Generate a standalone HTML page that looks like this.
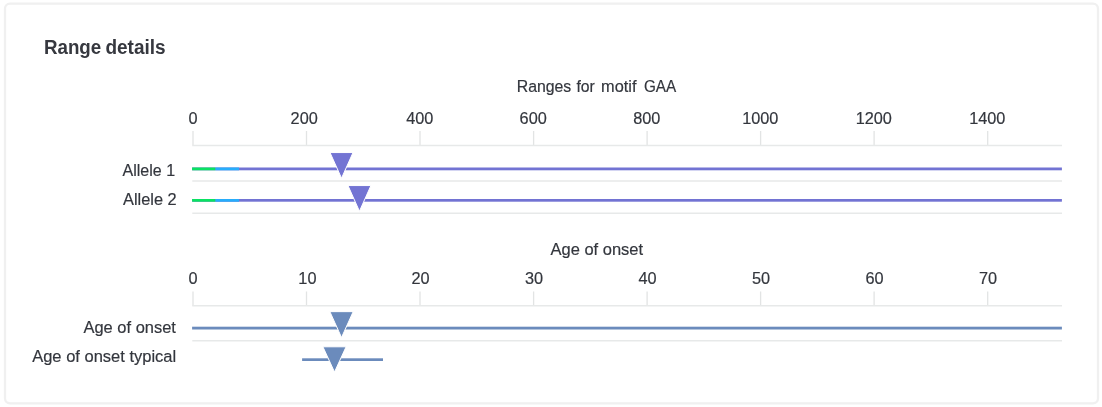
<!DOCTYPE html>
<html lang="en">
<head>
<meta charset="utf-8">
<title>Range details</title>
<style>
  html, body { margin: 0; padding: 0; background: #ffffff; }
  body { width: 1102px; height: 407px; overflow: hidden; position: relative;
         font-family: "Liberation Sans", Arial, sans-serif; color: #36383f; }
  svg { position: absolute; left: 0; top: 0; }
  svg text { font-family: "Liberation Sans", Arial, sans-serif; fill: #33363d; }
  svg text.h { font-weight: 700; font-size: 20.3px; fill: #36383f; }
  .t { font-size: 16.3px; stroke: #33363d; stroke-width: 0.18px; }
  .grid { stroke: #e7e9e9; stroke-width: 1.45; fill: none; }
  .tick { stroke: #e2e4e4; stroke-width: 1.3; fill: none; }
</style>
</head>
<body>
<svg width="1102" height="407" viewBox="0 0 1102 407">
  <rect x="5" y="3.7" width="1093" height="399.6" rx="5" ry="5" fill="#ffffff" stroke="#f0f0f0" stroke-width="2.3"/>
  <text id="heading" class="h" y="53.9" lengthAdjust="spacingAndGlyphs"><tspan x="43.9" textLength="57.4" lengthAdjust="spacingAndGlyphs">Range</tspan> <tspan x="105.4" textLength="60.2" lengthAdjust="spacingAndGlyphs">details</tspan></text>

  <!-- chart 1 -->
  <text id="title1" class="t" y="91.9"><tspan x="516.7" textLength="54.6" lengthAdjust="spacingAndGlyphs">Ranges</tspan> <tspan x="576.4" textLength="18.4" lengthAdjust="spacingAndGlyphs">for</tspan> <tspan x="601.1" textLength="35.4" lengthAdjust="spacingAndGlyphs">motif</tspan> <tspan x="643.9" textLength="32.3" lengthAdjust="spacingAndGlyphs">GAA</tspan></text>
  <g class="t" text-anchor="middle">
    <text x="193.1" y="123.8">0</text>
    <text x="304.2" y="123.8">200</text>
    <text x="419.8" y="123.8">400</text>
    <text x="533.2" y="123.8">600</text>
    <text x="646.8" y="123.8">800</text>
    <text x="760.3" y="123.8">1000</text>
    <text x="873.8" y="123.8">1200</text>
    <text x="987.3" y="123.8">1400</text>
  </g>
  <g class="tick">
    <path d="M193 131V145.5M306.5 131V145.5M420 131V145.5M533.6 131V145.5M647.1 131V145.5M760.6 131V145.5M874.1 131V145.5M987.7 131V145.5"/>
  </g>
  <g class="grid">
    <path d="M192.3 145.5H1062M192.3 181H1062M192.3 213.2H1062"/>
  </g>
  <g text-anchor="end" class="t">
    <text x="175.1" y="175.8" textLength="52.6" lengthAdjust="spacingAndGlyphs">Allele 1</text>
    <text x="176.6" y="205" textLength="53.6" lengthAdjust="spacingAndGlyphs">Allele 2</text>
  </g>
  <!-- allele 1 -->
  <rect x="192.1" y="167.5" width="869.8" height="2.8" fill="#7273d3"/>
  <rect x="192.1" y="167.5" width="23.4" height="2.8" fill="#0ae262"/>
  <rect x="215.5" y="167.5" width="23.5" height="2.8" fill="#27adfb"/>
  <path d="M330.03 152.55H353.02L341.52 178.22Z" fill="#7374d3" stroke="#ffffff" stroke-width="1"/>
  <!-- allele 2 -->
  <rect x="192.1" y="199.0" width="869.8" height="2.7" fill="#7273d3"/>
  <rect x="192.1" y="199.0" width="23.4" height="2.7" fill="#0ae262"/>
  <rect x="215.5" y="199.0" width="23.5" height="2.7" fill="#27adfb"/>
  <path d="M347.98 185.55H370.92L359.45 211.23Z" fill="#7374d3" stroke="#ffffff" stroke-width="1"/>

  <!-- chart 2 -->
  <text id="title2" class="t" x="596.8" y="255.3" text-anchor="middle" textLength="92.6" lengthAdjust="spacingAndGlyphs">Age of onset</text>
  <g class="t" text-anchor="middle">
    <text x="193.1" y="283.8">0</text>
    <text x="307.4" y="283.8">10</text>
    <text x="420.6" y="283.8">20</text>
    <text x="534.1" y="283.8">30</text>
    <text x="647.6" y="283.8">40</text>
    <text x="761.1" y="283.8">50</text>
    <text x="874.6" y="283.8">60</text>
    <text x="988.1" y="283.8">70</text>
  </g>
  <g class="tick">
    <path d="M193 291.5V305.7M306.5 291.5V305.7M420 291.5V305.7M533.6 291.5V305.7M647.1 291.5V305.7M760.6 291.5V305.7M874.1 291.5V305.7M987.7 291.5V305.7"/>
  </g>
  <g class="grid">
    <path d="M192.3 305.7H1062M192.3 340.7H1062"/>
  </g>
  <g text-anchor="end" class="t">
    <text x="175.9" y="332.8" textLength="92.4" lengthAdjust="spacingAndGlyphs">Age of onset</text>
    <text x="176.2" y="361.6" textLength="144" lengthAdjust="spacingAndGlyphs">Age of onset typical</text>
  </g>
  <rect x="192.1" y="326.7" width="869.8" height="2.8" fill="#6b8bbc"/>
  <path d="M329.88 311.65H353.17L341.52 337.52Z" fill="#6b8bbc" stroke="#ffffff" stroke-width="1"/>
  <rect x="302.1" y="358.3" width="80.9" height="2.7" fill="#6b8bbc"/>
  <path d="M322.92 346.80H346.08L334.50 372.05Z" fill="#6b8bbc" stroke="#ffffff" stroke-width="1"/>
</svg>
</body>
</html>
